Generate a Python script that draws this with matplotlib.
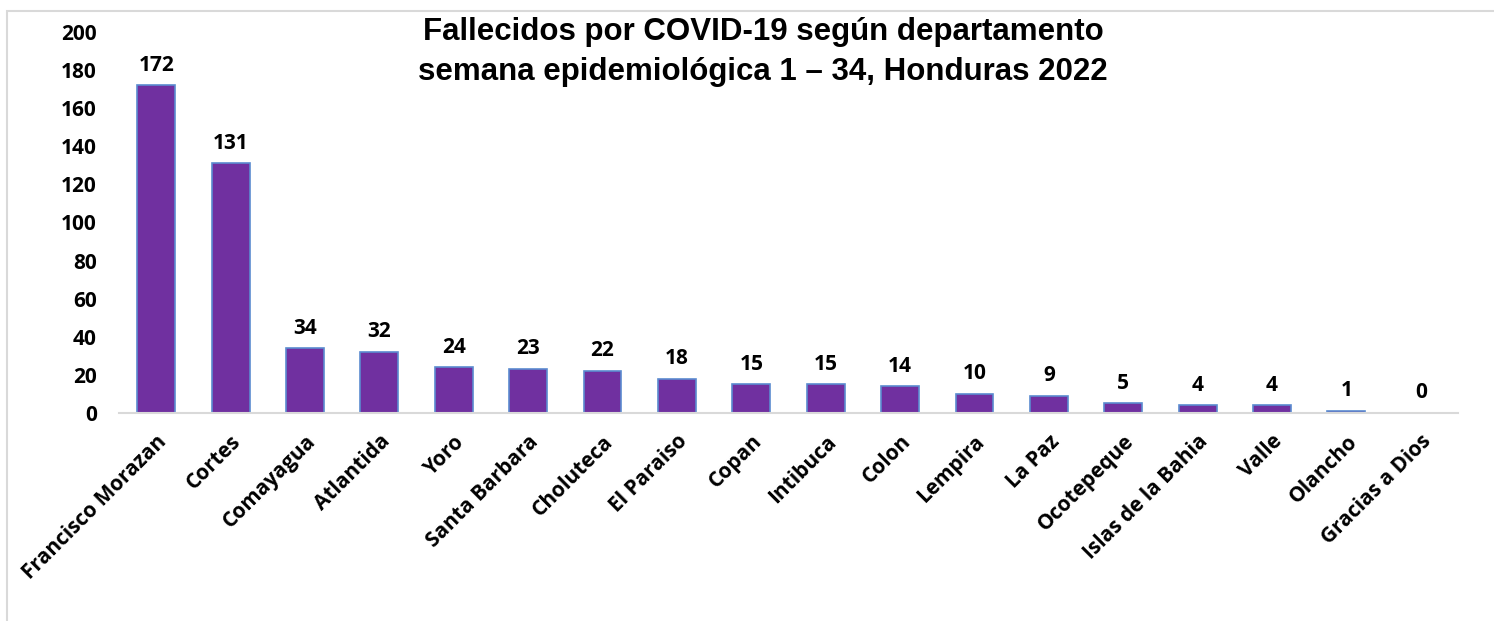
import matplotlib.pyplot as plt
from matplotlib.patches import Rectangle

departamentos = ["Francisco Morazan", "Cortes", "Comayagua", "Atlantida", "Yoro",
                 "Santa Barbara", "Choluteca", "El Paraiso", "Copan", "Intibuca",
                 "Colon", "Lempira", "La Paz", "Ocotepeque", "Islas de la Bahia",
                 "Valle", "Olancho", "Gracias a Dios"]
fallecidos = [172, 131, 34, 32, 24, 23, 22, 18, 15, 15, 14, 10, 9, 5, 4, 4, 1, 0]
yticks = [0, 20, 40, 60, 80, 100, 120, 140, 160, 180, 200]

title = "Fallecidos por COVID-19 según departamento\nsemana epidemiológica 1 – 34, Honduras 2022"

lab_font = ["Open Sans", "DejaVu Sans"]
fs = 15

fig = plt.figure(figsize=(14.94, 6.21), dpi=100)
fig.patches.append(Rectangle((7 / 1494, -0.05), 1.1, 1 - 11 / 621 + 0.05,
                             transform=fig.transFigure, fill=False,
                             edgecolor="#d9d9d9", linewidth=1.5))
ax = fig.add_axes([119 / 1494, 1 - 413 / 621, (1458 - 119) / 1494, (413 - 32) / 621])

x = list(range(len(departamentos)))
ax.bar(x, fallecidos, width=0.51, color="#7030A0", edgecolor="#5B8BD0", linewidth=1.2)

for xi, v in zip(x, fallecidos):
    ax.annotate(str(v), (xi, v), xytext=(0, 7), textcoords="offset points",
                ha="center", va="bottom", fontsize=fs, fontweight="bold",
                family=lab_font)

ax.set_xlim(-0.5, len(departamentos) - 0.5)
ax.set_ylim(0, 200)
ax.set_yticks(yticks)
ax.set_yticklabels([str(t) for t in yticks], fontsize=fs, fontweight="bold", family=lab_font)
ax.set_xticks(x)
ax.set_xticklabels(departamentos, rotation=45, ha="right", rotation_mode="anchor",
                   fontsize=fs, fontweight="bold", family=lab_font)
ax.tick_params(axis="both", length=0)
ax.tick_params(axis="y", pad=16)
ax.tick_params(axis="x", pad=13)

for side in ["top", "right", "left"]:
    ax.spines[side].set_visible(False)
ax.spines["bottom"].set_color("#d9d9d9")
ax.spines["bottom"].set_linewidth(1.5)

fig.text(763 / 1494, 1 - 52 / 621, title, ha="center", va="center", fontsize=22.5,
         fontweight="bold", family="Liberation Sans", linespacing=1.42)

fig.savefig("out.png", dpi=100)
